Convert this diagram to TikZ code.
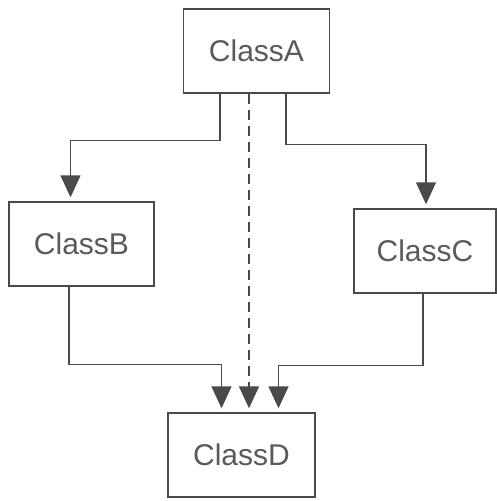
\documentclass[tikz,border=0pt]{standalone}
\usepackage{fontspec}
\setmainfont{Liberation Sans}
\usetikzlibrary{arrows.meta}
\definecolor{ink}{HTML}{4A4A4A}
\definecolor{txt}{HTML}{5A5A5A}
\begin{document}
\begin{tikzpicture}[x=1pt,y=-1pt,
  classbox/.style={draw=ink,line width=1.4pt,minimum width=146pt,minimum height=84pt,
    inner sep=0pt,font=\fontsize{30}{30}\selectfont,text=txt},
  link/.style={draw=ink,line width=1.4pt,
    -{Triangle[width=20pt,length=22pt]},shorten >=4pt},
  dep/.style={link,dash pattern=on 10pt off 6pt}]
  \useasboundingbox (0,0) rectangle (497,501);
  \fill[white] (0,0) rectangle (497,501);

  % classes
  \node[classbox] (A) at (256.5,51) {ClassA};
  \node[classbox,minimum width=145pt] (B) at (81.5,244) {ClassB};
  \node[classbox,minimum width=142pt] (C) at (425,251) {ClassC};
  \node[classbox,minimum width=147pt] (D) at (241.5,455) {ClassD};

  % inheritance links from A
  \draw[link] ([xshift=-36.5pt]A.south) -- ++(0,47) -| ([xshift=-11pt]B.north);
  \draw[link] ([xshift=29.5pt]A.south) -- ++(0,51) -| ([xshift=1pt]C.north);

  % dependency from A straight down to D
  \draw[dep] ([xshift=-7.5pt]A.south) -- ([xshift=7.5pt]D.north);

  % links into D
  \draw[link] ([xshift=-12.5pt]B.south) -- ++(0,78) -| ([xshift=-20pt]D.north);
  \draw[link] ([xshift=-2pt]C.south) -- ++(0,72) -| ([xshift=37pt]D.north);
\end{tikzpicture}
\end{document}
